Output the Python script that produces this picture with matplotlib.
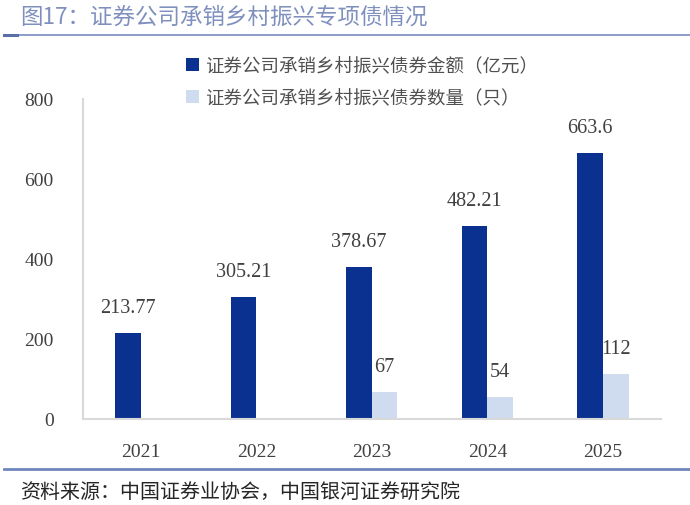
import matplotlib
matplotlib.use("Agg")
import matplotlib.pyplot as plt
import numpy as np

plt.rcParams['font.family'] = ['Noto Sans CJK SC', 'DejaVu Sans']

years = ['2021', '2022', '2023', '2024', '2025']
amount = [213.77, 305.21, 378.67, 482.21, 663.6]
count = [None, None, 67, 54, 112]
amount_labels = ['213.77', '305.21', '378.67', '482.21', '663.6']
count_labels = ['', '', '67', '54', '112']
yticks = [0, 200, 400, 600, 800]
series_names = ['证券公司承销乡村振兴债券金额（亿元）', '证券公司承销乡村振兴债券数量（只）']
title = '图17：证券公司承销乡村振兴专项债情况'
source = '资料来源：中国证券业协会，中国银河证券研究院'

dark = '#0b3190'
light = '#cfdcf0'
numfont = 'Liberation Serif'

fig = plt.figure(figsize=(6.9, 5.06), dpi=100)
ax = fig.add_axes([83/690, 86/506, (660.75-83)/690, 320.5/506])

x = np.arange(len(years))
w = 0.221
cnt = np.array([np.nan if v is None else v for v in count], dtype=float)
b1 = ax.bar(x - w/2, amount, w, color=dark, label=series_names[0])
b2 = ax.bar(x + w/2, cnt, w, color=light, label=series_names[1])

for xi, v, t in zip(x, amount, amount_labels):
    ax.annotate(t, (xi - w/2, v), xytext=(0, 11.5), textcoords='offset points',
                ha='center', va='bottom', fontsize=14.5, family=numfont, color='#404040')
for xi, v, t in zip(x, cnt, count_labels):
    if t:
        ax.annotate(t, (xi + w/2, v), xytext=(0, 11.5), textcoords='offset points',
                    ha='center', va='bottom', fontsize=14.5, family=numfont, color='#404040')

ax.set_xlim(-0.5, len(years) - 0.5)
ax.set_ylim(0, 800)
ax.set_xticks(x)
ax.set_xticklabels(years, family=numfont, fontsize=14, color='#404040')
ax.set_yticks(yticks)
ax.set_yticklabels([str(v) for v in yticks], family=numfont, fontsize=14, color='#404040')
ax.tick_params(axis='both', length=0)
ax.tick_params(axis='x', pad=17)
ax.tick_params(axis='y', pad=21)
for s in ['top', 'right']:
    ax.spines[s].set_visible(False)
for s in ['left', 'bottom']:
    ax.spines[s].set_color('#d9d9d9')
    ax.spines[s].set_linewidth(1.5)

fig.legend(handles=[b1, b2], labels=series_names, loc='upper left',
           bbox_to_anchor=(186/690, 1 - 58/506), frameon=False,
           fontsize=13.3, handlelength=0.7, handleheight=0.7, handletextpad=0.35,
           labelspacing=0.78, borderpad=0, borderaxespad=0, labelcolor='#505050')

fig.text(20/690, 1 - 17.5/506, title, fontsize=16.2, color='#7f90bf', ha='left', va='center')
fig.add_artist(plt.Line2D([4/690, 1], [1 - 36/506, 1 - 36/506], color='#7a8cbf', lw=1.2))
fig.add_artist(plt.Line2D([4/690, 17/690], [1 - 36/506, 1 - 36/506], color='#5a6fa8', lw=2.2))
fig.add_artist(plt.Line2D([4/690, 1], [1 - 470/506, 1 - 470/506], color='#6f86bd', lw=2))
fig.text(20/690, 1 - 492/506, source, fontsize=14.4, color='#262626', ha='left', va='center',
         style='italic')

fig.savefig('out.png', dpi=100)
